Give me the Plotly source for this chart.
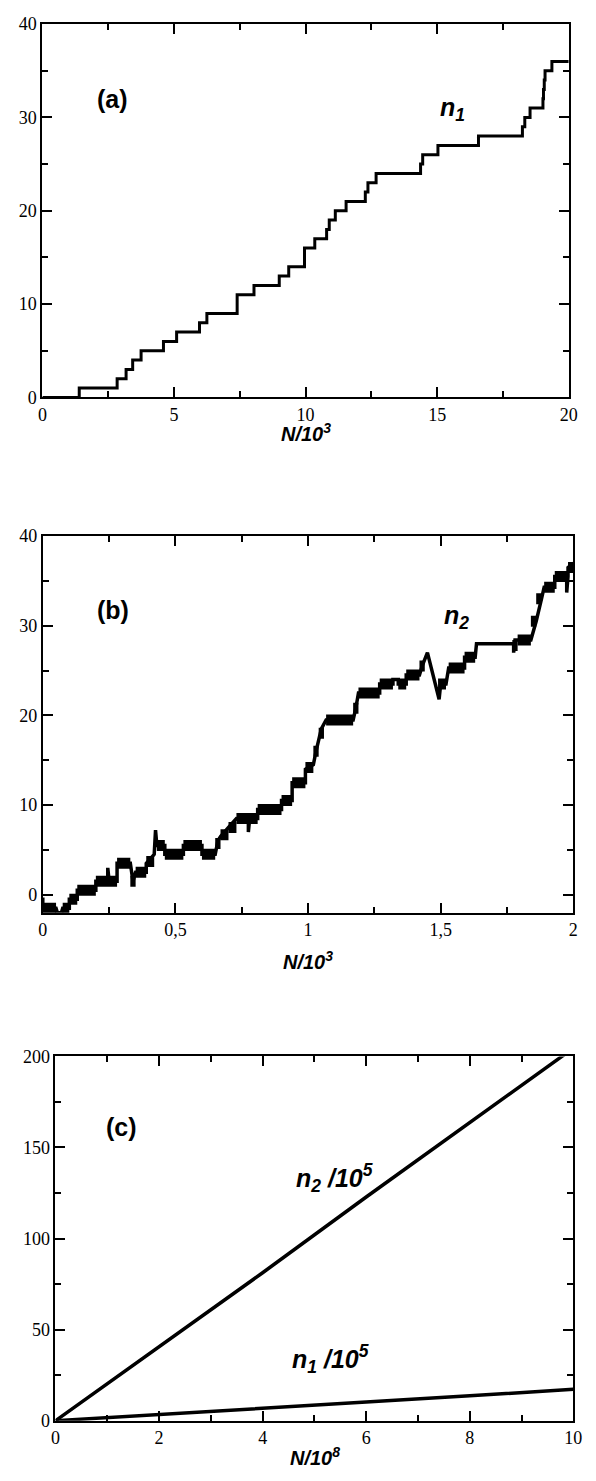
import plotly.graph_objects as go

W, H = 596, 1481

# ---------------- Panel (a): n1 vs N/10^3 (step curve) ----------------
A_X = [0, 1.4, 2.84, 3.18, 3.43, 3.75, 4.6, 5.1, 5.97, 6.25, 7.4, 8.04, 9.0, 9.36,
       9.96, 10.35, 10.8, 10.9, 11.13, 11.54, 12.27, 12.37, 12.68, 14.37, 14.45,
       15.03, 16.57, 18.24, 18.33, 18.53, 19.02, 19.04, 19.07, 19.1, 19.36, 20]
A_N1 = [0, 1, 2, 3, 4, 5, 6, 7, 8, 9, 11, 12, 13, 14,
        16, 17, 18, 19, 20, 21, 22, 23, 24, 25, 26,
        27, 28, 29, 30, 31, 32, 33, 34, 35, 36, 36]

# ---------------- Panel (b): n2 vs N/10^3 (noisy path + dense blocks) ----------------
B_X = [0.0, 0.0, 0.05, 0.055, 0.07, 0.075, 0.1, 0.1, 0.13, 0.13, 0.2, 0.2, 0.245, 0.245,
       0.25, 0.28, 0.28, 0.33, 0.34, 0.35, 0.39, 0.39, 0.42, 0.425, 0.43, 0.46, 0.46,
       0.53, 0.53, 0.6, 0.6, 0.65, 0.66, 0.67, 0.7, 0.73, 0.775, 0.775, 0.78, 0.81,
       0.81, 0.9, 0.9, 0.94, 0.94, 0.99, 0.99, 1.02, 1.03, 1.05, 1.068, 1.17, 1.18,
       1.19, 1.27, 1.27, 1.32, 1.32, 1.34, 1.34, 1.37, 1.37, 1.42, 1.43, 1.45, 1.494,
       1.5, 1.52, 1.53, 1.59, 1.59, 1.63, 1.635, 1.775, 1.775, 1.78, 1.84, 1.86, 1.88,
       1.89, 1.93, 1.93, 1.975, 1.975, 1.98, 1.98, 2.0]
B_N2 = [-0.3, -1.5, -1.5, -2.0, -2.0, -1.5, -1.5, -0.5, -0.5, 0.5, 0.5, 1.5, 1.5, 3.0,
        1.5, 1.5, 3.5, 3.5, 1.5, 2.5, 2.5, 3.5, 4.5, 7.2, 5.5, 5.5, 4.5,
        4.5, 5.5, 5.5, 4.5, 4.5, 6.0, 6.5, 7.5, 8.5, 8.5, 7.0, 8.5, 8.5,
        9.5, 9.5, 10.5, 10.5, 12.5, 12.5, 14.0, 14.5, 16.0, 18.5, 19.5, 19.5, 20.8,
        22.5, 22.5, 23.5, 23.5, 24.0, 24.0, 23.5, 23.5, 24.5, 24.5, 25.5, 27.0, 21.8,
        23.5, 23.5, 25.3, 25.3, 26.5, 26.5, 28.0, 28.0, 27.0, 28.4, 28.4, 30.5, 33.0,
        34.3, 34.3, 35.5, 35.5, 33.7, 35.5, 36.5, 37.0]

# blocks where n2 flickers rapidly between neighbouring values
BLK_X0 = [0.0, 0.075, 0.1, 0.13, 0.2, 0.28, 0.33, 0.35, 0.39, 0.43, 0.46, 0.53, 0.6,
          0.65, 0.67, 0.7, 0.73, 0.81, 0.9, 0.94, 0.99, 1.02, 1.04, 1.068, 1.17, 1.19,
          1.27, 1.34, 1.37, 1.42, 1.49, 1.53, 1.59, 1.77, 1.79, 1.84, 1.86, 1.89, 1.93, 1.98]
BLK_X1 = [0.05, 0.1, 0.13, 0.2, 0.28, 0.33, 0.35, 0.39, 0.42, 0.46, 0.53, 0.6, 0.65,
          0.67, 0.7, 0.73, 0.81, 0.9, 0.94, 0.99, 1.02, 1.04, 1.06, 1.17, 1.19, 1.27,
          1.32, 1.37, 1.42, 1.44, 1.52, 1.59, 1.63, 1.79, 1.84, 1.86, 1.88, 1.93, 1.98, 2.0]
BLK_Y = [-1.5, -1.5, -0.5, 0.5, 1.5, 3.5, 1.5, 2.5, 3.7, 5.5, 4.5, 5.5, 4.5,
         5.7, 6.7, 7.5, 8.5, 9.5, 10.5, 12.5, 14.2, 16.0, 18.0, 19.5, 20.8, 22.5,
         23.5, 23.5, 24.5, 25.5, 23.5, 25.3, 26.5, 27.8, 28.4, 30.5, 33.0, 34.3, 35.5, 36.5]

# ---------------- Panel (c): n/10^5 vs N/10^8 ----------------
C_X = [0, 2, 4, 6, 8, 10]
C_N2 = [0, 40.6, 81.2, 122.8, 163.4, 204.5]
C_N1 = [0, 3.3, 6.6, 10.2, 13.7, 17.2]

# tick labels
A_XTICKS = [0, 5, 10, 15, 20]
A_YTICKS = [0, 10, 20, 30, 40]
B_XTICKS = [0, 0.5, 1, 1.5, 2]
B_XTEXT = ["0", "0,5", "1", "1,5", "2"]
B_YTICKS = [0, 10, 20, 30, 40]
C_XTICKS = [0, 2, 4, 6, 8, 10]
C_YTICKS = [0, 50, 100, 150, 200]

SERIF = "Liberation Serif"
SANS = "Liberation Sans"
TICKFONT = dict(family=SERIF, size=18, color="black")


def px_x(p):
    return p / W


def px_y(p):
    return 1 - p / H


def axis(domain, rng, tickvals, minor_dtick, ticktext=None, anchor=None):
    d = dict(
        domain=domain, range=rng, tickmode="array", tickvals=tickvals,
        showline=True, linecolor="black", linewidth=2, mirror="ticks",
        ticks="inside", ticklen=10, tickwidth=2, tickcolor="black",
        minor=dict(ticks="inside", ticklen=6, tickwidth=2, tickcolor="black",
                   dtick=minor_dtick, showgrid=False),
        showgrid=False, zeroline=False,
        tickfont=TICKFONT,
        anchor=anchor, fixedrange=True,
    )
    if ticktext is not None:
        d["ticktext"] = ticktext
    else:
        d["ticktext"] = [str(v) for v in tickvals]
    return d


fig = go.Figure()

fig.add_trace(go.Scatter(x=A_X, y=A_N1, mode="lines", line=dict(color="black", width=3, shape="hv"),
                         xaxis="x", yaxis="y", showlegend=False))

bx, by = [], []
for x0, x1, yv in zip(BLK_X0, BLK_X1, BLK_Y):
    bx += [x0, x1, None]
    by += [yv, yv, None]
fig.add_trace(go.Scatter(x=B_X, y=B_N2, mode="lines", line=dict(color="black", width=3.5),
                         xaxis="x2", yaxis="y2", showlegend=False))
fig.add_trace(go.Scatter(x=bx, y=by, mode="lines", line=dict(color="black", width=11),
                         xaxis="x2", yaxis="y2", showlegend=False, connectgaps=False))

fig.add_trace(go.Scatter(x=C_X, y=C_N2, mode="lines", line=dict(color="black", width=3.5),
                         xaxis="x3", yaxis="y3", showlegend=False))
fig.add_trace(go.Scatter(x=C_X, y=C_N1, mode="lines", line=dict(color="black", width=3.5),
                         xaxis="x3", yaxis="y3", showlegend=False))

ya = [px_y(392.7), px_y(14.3)]
yb = [px_y(915), px_y(533.3)]
yc = [px_y(1430), px_y(1060.7)]

fig.update_layout(
    width=W, height=H, margin=dict(l=0, r=0, t=0, b=0),
    paper_bgcolor="white", plot_bgcolor="white",
    font=dict(family=SERIF, size=18, color="black"),
    xaxis=axis([px_x(38.3), px_x(577.3)], [0, 20], A_XTICKS, 2.5, anchor="y"),
    yaxis=axis(ya, [0, 40], A_YTICKS, 5, anchor="x"),
    xaxis2=axis([px_x(38.7), px_x(582)], [0, 2], B_XTICKS, 0.25, B_XTEXT, anchor="y2"),
    yaxis2=axis(yb, [-2, 40], B_YTICKS, 5, anchor="x2"),
    xaxis3=axis([px_x(51.7), px_x(582)], [0, 10], C_XTICKS, 1, anchor="y3"),
    yaxis3=axis(yc, [0, 200], C_YTICKS, 25, anchor="x3"),
)

lab_font = dict(family=SANS, size=25, color="black")
ann = [
    dict(text="<b>(a)</b>", x=2.66, y=32, xref="x", yref="y"),
    dict(text="<b><i>n<sub>1</sub></i></b>", x=15.05, y=30.9, xref="x", yref="y", xanchor="left"),
    dict(text="<b>(b)</b>", x=0.265, y=31.8, xref="x2", yref="y2"),
    dict(text="<b><i>n<sub>2</sub></i></b>", x=1.506, y=31.0, xref="x2", yref="y2", xanchor="left"),
    dict(text="<b>(c)</b>", x=1.28, y=161, xref="x3", yref="y3"),
    dict(text="<b><i>n<sub>2</sub> /10<sup>5</sup></i></b>", x=4.6, y=133, xref="x3", yref="y3", xanchor="left"),
    dict(text="<b><i>n<sub>1</sub> /10<sup>5</sup></i></b>", x=4.53, y=33.6, xref="x3", yref="y3", xanchor="left"),
]
for a in ann:
    a.setdefault("xanchor", "center")
    a.update(showarrow=False, font=lab_font, yanchor="middle")

tfont = dict(family=SANS, size=20, color="black")
titles = [
    dict(text="<b><i>N/10<sup>3</sup></i></b>", x=px_x(307.8), y=px_y(428), yanchor="middle"),
    dict(text="<b><i>N/10<sup>3</sup></i></b>", x=px_x(310.3), y=px_y(964), yanchor="middle"),
    dict(text="<b><i>N/10<sup>8</sup></i></b>", x=px_x(317), y=0.0, yanchor="bottom"),
]
for t in titles:
    t.update(xref="paper", yref="paper", showarrow=False, font=tfont,
             xanchor="center")

fig.update_layout(annotations=ann + titles)

fig.write_html("out.html")
